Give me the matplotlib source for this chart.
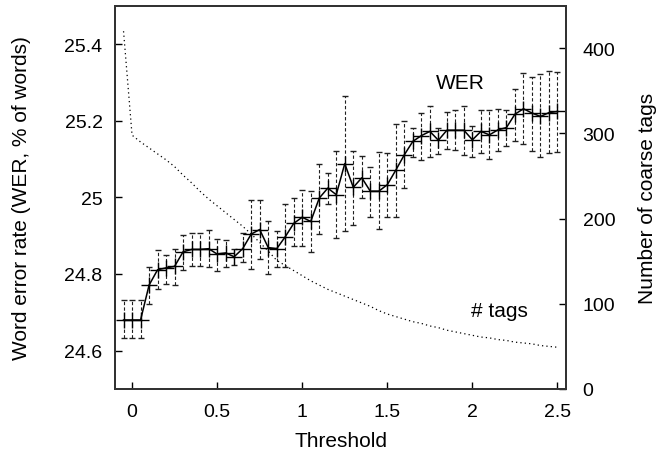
import matplotlib
matplotlib.use("Agg")
import matplotlib.pyplot as plt

# threshold values (x axis)
threshold = [-0.05, 0.0, 0.05, 0.1, 0.15, 0.2, 0.25, 0.3, 0.35, 0.4, 0.45, 0.5,
             0.55, 0.6, 0.65, 0.7, 0.75, 0.8, 0.85, 0.9, 0.95, 1.0, 1.05, 1.1,
             1.15, 1.2, 1.25, 1.3, 1.35, 1.4, 1.45, 1.5, 1.55, 1.6, 1.65, 1.7,
             1.75, 1.8, 1.85, 1.9, 1.95, 2.0, 2.05, 2.1, 2.15, 2.2, 2.25, 2.3,
             2.35, 2.4, 2.45, 2.5]

# word error rate, with upper/lower ends of the error bars
wer = [24.68, 24.68, 24.68, 24.771, 24.811, 24.816, 24.82, 24.858, 24.864, 24.864,
       24.866, 24.852, 24.855, 24.845, 24.866, 24.904, 24.916, 24.869, 24.866, 24.897,
       24.932, 24.948, 24.937, 24.998, 25.024, 25.007, 25.088, 25.026, 25.051, 25.016,
       25.016, 25.033, 25.071, 25.111, 25.146, 25.161, 25.172, 25.149, 25.175, 25.175,
       25.175, 25.15, 25.172, 25.163, 25.176, 25.182, 25.217, 25.231, 25.22, 25.211,
       25.221, 25.224]
wer_hi = [24.731, 24.731, 24.731, 24.818, 24.862, 24.849, 24.865, 24.903, 24.906, 24.906,
          24.916, 24.892, 24.89, 24.866, 24.906, 24.992, 24.994, 24.937, 24.911, 24.983,
          24.998, 25.018, 25.017, 25.087, 25.063, 25.12, 25.265, 25.12, 25.107, 25.08,
          25.118, 25.116, 25.192, 25.198, 25.181, 25.221, 25.237, 25.181, 25.222, 25.228,
          25.239, 25.186, 25.227, 25.228, 25.231, 25.228, 25.282, 25.324, 25.315, 25.321,
          25.33, 25.328]
wer_lo = [24.634, 24.634, 24.634, 24.722, 24.761, 24.774, 24.772, 24.81, 24.82, 24.82,
          24.818, 24.807, 24.818, 24.823, 24.83, 24.814, 24.838, 24.8, 24.818, 24.817,
          24.872, 24.874, 24.858, 24.905, 24.983, 24.894, 24.911, 24.927, 24.998, 24.949,
          24.918, 24.95, 24.95, 25.024, 25.104, 25.097, 25.105, 25.114, 25.127, 25.124,
          25.111, 25.105, 25.115, 25.1, 25.12, 25.133, 25.146, 25.139, 25.12, 25.105,
          25.115, 25.117]

# number of coarse tags (right axis)
tags = [420, 298, 290, 283, 276, 269, 261, 251, 242, 232, 223, 215, 207, 199, 191,
        182, 172, 162, 151, 145, 139, 133, 127, 122, 117, 113, 109, 105, 101, 97, 92,
        88, 85, 82, 79, 77, 74, 72, 69, 67, 65, 63, 61, 60, 58, 57, 55, 54, 53, 51,
        50, 49]

x_ticks = [0, 0.5, 1, 1.5, 2, 2.5]
x_ticklabels = ["0", "0.5", "1", "1.5", "2", "2.5"]
wer_ticks = [24.6, 24.8, 25.0, 25.2, 25.4]
wer_ticklabels = ["24.6", "24.8", "25", "25.2", "25.4"]
tag_ticks = [0, 100, 200, 300, 400]

plt.rcParams["font.family"] = ["Liberation Sans", "DejaVu Sans"]
plt.rcParams["font.size"] = 14

fig = plt.figure(figsize=(6.63, 4.52), dpi=100)
ax = fig.add_axes([0.1735, 0.1372, 0.6802, 0.8480])
ax2 = ax.twinx()

err_lo = [w - lo for w, lo in zip(wer, wer_lo)]
err_hi = [hi - w for w, hi in zip(wer, wer_hi)]
eb = ax.errorbar(threshold, wer, yerr=[err_lo, err_hi], color="black", lw=1.1,
                 marker="+", markersize=12, markeredgewidth=1.0,
                 ecolor="#202020", elinewidth=0.8, capsize=2.5, capthick=0.8,
                 zorder=3)
eb[2][0].set_linestyle((0, (3, 2)))

# dotted curve for the tag count
ax2.plot(threshold, tags, color="black", lw=0.9, linestyle=(0, (1, 2.5)))

ax.set_xlim(-0.1, 2.55)
ax.set_ylim(24.5, 25.5)
ax2.set_ylim(0, 450)

ax.set_xticks(x_ticks)
ax.set_xticklabels(x_ticklabels)
ax.set_yticks(wer_ticks)
ax.set_yticklabels(wer_ticklabels)
ax2.set_yticks(tag_ticks)

ax.tick_params(axis="both", direction="in", length=5, width=1, pad=9)
ax.tick_params(axis="x", pad=10)
ax2.tick_params(axis="y", direction="in", length=5, width=1, pad=12)

for a in (ax, ax2):
    for s in a.spines.values():
        s.set_linewidth(1.4)
        s.set_color("#333333")

ax.set_xlabel("Threshold", labelpad=8, fontsize=15)
ax.set_ylabel("Word error rate (WER, % of words)", labelpad=24, fontsize=15)
ax2.set_ylabel("Number of coarse tags", labelpad=16, fontsize=15)

ax.text(1.93, 25.30, "WER", ha="center", va="center", fontsize=15)
ax.text(2.157, 24.704, "# tags", ha="center", va="center", fontsize=15)

fig.savefig("out.png", dpi=100)
